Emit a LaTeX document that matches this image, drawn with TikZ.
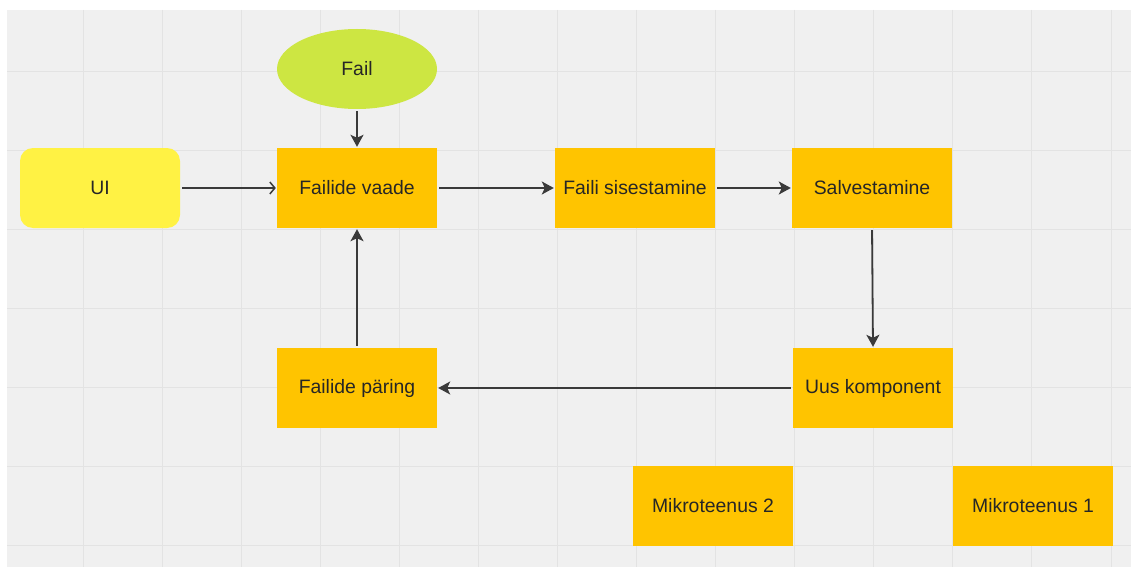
\documentclass[tikz,border=0pt]{standalone}
\usepackage{fontspec}
\setmainfont{Liberation Sans}
\usetikzlibrary{arrows.meta,shapes.geometric}
\definecolor{flPaper}{HTML}{F0F0F0}
\definecolor{flGrid}{HTML}{E3E3E3}
\definecolor{flOrange}{HTML}{FFC400}
\definecolor{flYellow}{HTML}{FFF244}
\definecolor{flLime}{HTML}{CDE642}
\definecolor{flInk}{HTML}{262626}
\definecolor{flLine}{HTML}{3A3A3A}
\newcommand{\FLType}{\fontsize{19.4}{23}\selectfont}
\tikzset{fl/base/.style={x=1pt,y=1pt,line cap=butt,line join=miter,
  every node/.style={font=\FLType,inner sep=0pt,text=flInk}},
  fl/arrow/.style={-{Stealth[length=12pt,width=13pt,inset=3pt]},draw=flLine,line width=1.8pt,
    shorten <=2pt,shorten >=1pt},
  fl/open/.style={-{Straight Barb[length=5pt,width=12pt,line width=1.5pt]},draw=flLine,
    line width=1.8pt,shorten <=2pt,shorten >=1pt},
  fl/grid/.style={draw=flGrid,line width=.8pt},
  fl/box/.style={fill=flOrange,minimum width=160pt,minimum height=80pt},
  fl/ui/.style={fill=flYellow,rounded corners=13pt,minimum width=160pt,minimum height=80pt},
  fl/file/.style={ellipse,fill=flLime,minimum width=160pt,minimum height=80pt}}

\begin{document}
\begin{tikzpicture}[fl/base,y=-1pt]
  \useasboundingbox (0,0) rectangle (1131,567);
  \fill[white] (0,0) rectangle (1131,567);
  \fill[flPaper] (7,10) rectangle (1131,567);
  \foreach \k in {0,...,13}{\draw[fl/grid] ({83+79.07*\k},10)--({83+79.07*\k},567);}
  \foreach \k in {0,...,6}{\draw[fl/grid] (7,{71+79*\k})--(1131,{71+79*\k});}
  % nodes
  \node[fl/ui] (ui) at (100,188) {UI};
  \node[fl/file] (fail) at (357,69) {Fail};
  \node[fl/box] (vaade) at (357,188) {Failide vaade};
  \node[fl/box] (sisestamine) at (635,188) {Faili sisestamine};
  \node[fl/box] (salvestamine) at (872,188) {Salvestamine};
  \node[fl/box] (komponent) at (873,388) {Uus komponent};
  \node[fl/box] (paring) at (357,388) {Failide päring};
  \node[fl/box] (mikro2) at (713,506) {Mikroteenus 2};
  \node[fl/box] (mikro1) at (1033,506) {Mikroteenus 1};
  % connectors
  \draw[fl/open] (ui)--(vaade);
  \draw[fl/arrow] (fail)--(vaade);
  \draw[fl/arrow] (vaade)--(sisestamine);
  \draw[fl/arrow] (sisestamine)--(salvestamine);
  \draw[fl/arrow] (salvestamine.south)--(komponent.north);
  \draw[fl/arrow] (komponent)--(paring);
  \draw[fl/arrow] (paring)--(vaade);
\end{tikzpicture}
\end{document}
